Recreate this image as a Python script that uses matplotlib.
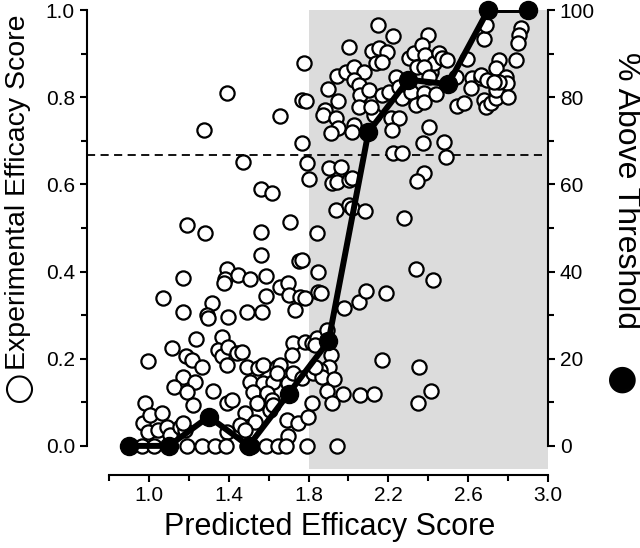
import matplotlib
matplotlib.use('Agg')
import matplotlib.pyplot as plt
from matplotlib.ticker import MultipleLocator

plt.rcParams['font.family'] = ['Liberation Sans', 'DejaVu Sans']

# scatter: predicted vs experimental efficacy score
pred = [1.775, 1.39, 1.765, 1.785, 1.655, 1.275, 1.765, 1.47, 1.79, 1.80,
        1.56, 1.615, 1.19, 1.28, 1.56, 1.705, 1.84, 1.56, 1.75, 1.845,
        1.17, 1.39, 1.38, 1.375, 1.445, 1.505, 1.585, 1.655, 1.695, 1.70,
        1.755, 1.78, 1.845, 1.07, 1.585, 1.315, 1.29, 1.295, 1.17, 1.395,
        1.49, 1.565, 1.73, 1.235, 1.115, 1.365, 1.345, 1.365, 1.395, 1.44,
        1.465, 1.39, 1.185, 1.215, 1.265, 0.995, 1.72, 1.78, 1.815, 1.84,
        1.715, 1.49, 1.545, 1.57, 1.64, 1.655, 1.17, 1.23, 1.125, 1.19,
        1.22, 1.505, 1.57, 1.62, 1.64, 1.32, 1.52, 1.545, 1.59, 1.615,
        1.695, 1.72, 1.765, 1.82, 1.815, 0.98, 1.39, 1.415, 1.48, 1.53,
        1.54, 1.605, 1.62, 1.69, 1.745, 1.795, 0.97, 1.005, 1.065, 0.995,
        1.045, 1.09, 1.105, 1.155, 1.18, 1.17, 1.39, 1.455, 1.48, 1.695,
        0.91, 0.965, 1.025, 1.10, 1.19, 1.265, 1.33, 1.385, 1.49, 1.515,
        1.585, 1.645, 1.685, 1.79, 1.945,
        2.15, 2.225, 2.40, 2.005, 2.12, 2.155, 2.195, 2.14, 2.17, 1.945,
        1.99, 2.03, 2.08, 2.03, 2.055, 1.895, 2.06, 2.105, 2.055, 1.95,
        1.88, 1.87, 1.94, 1.95, 1.915, 2.03, 2.02, 2.13, 2.115, 2.17,
        2.205, 2.24, 2.255, 2.215, 2.255, 2.22, 2.27, 2.315, 2.34, 2.38,
        2.38, 2.305, 2.33, 2.37, 2.385, 2.415, 2.415, 2.43, 2.455, 2.47,
        2.495, 2.345, 2.38, 2.405, 2.44, 2.405, 2.375, 2.48, 2.49, 2.225,
        2.27, 2.38, 2.345, 1.905, 1.965, 1.92, 1.945, 2.005, 2.02, 1.94,
        2.005, 2.02, 2.085, 2.28, 2.54, 2.545, 2.58, 2.595, 2.62, 2.615,
        2.665, 2.665, 2.695, 2.68, 2.69, 2.68, 2.69, 2.715, 2.74, 2.74,
        2.755, 2.74, 2.79, 2.795, 2.80, 2.755, 2.73, 2.84, 2.865, 2.855,
        2.85,
        1.765, 1.86, 1.98, 2.055, 2.09, 2.19, 2.34, 2.425, 1.89, 1.83,
        1.915, 1.905, 1.855, 1.865, 1.93, 1.83, 1.89, 1.975, 2.06, 2.13,
        1.92, 2.17, 2.355, 2.415, 2.35]
expt = [0.878, 0.810, 0.794, 0.791, 0.757, 0.725, 0.695, 0.651, 0.649, 0.612,
        0.589, 0.580, 0.507, 0.489, 0.491, 0.514, 0.489, 0.438, 0.424, 0.399,
        0.385, 0.406, 0.383, 0.374, 0.392, 0.383, 0.390, 0.365, 0.374, 0.346,
        0.342, 0.339, 0.353, 0.339, 0.344, 0.328, 0.300, 0.294, 0.307, 0.296,
        0.307, 0.307, 0.312, 0.245, 0.225, 0.250, 0.220, 0.206, 0.227, 0.213,
        0.216, 0.186, 0.206, 0.197, 0.181, 0.195, 0.236, 0.239, 0.236, 0.248,
        0.209, 0.181, 0.179, 0.186, 0.181, 0.186, 0.158, 0.147, 0.135, 0.124,
        0.094, 0.147, 0.144, 0.147, 0.167, 0.126, 0.124, 0.099, 0.122, 0.106,
        0.144, 0.167, 0.156, 0.167, 0.099, 0.099, 0.099, 0.106, 0.076, 0.055,
        0.099, 0.083, 0.094, 0.060, 0.053, 0.067, 0.053, 0.071, 0.076, 0.032,
        0.037, 0.044, 0.025, 0.044, 0.037, 0.053, 0.032, 0.048, 0.037, 0.023,
        0.0, 0.0, 0.0, 0.0, 0.0, 0.0, 0.0, 0.0, 0.0, 0.0,
        0.0, 0.0, 0.0, 0.0, 0.0,
        0.966, 0.940, 0.943, 0.915, 0.906, 0.913, 0.904, 0.878, 0.881, 0.849,
        0.858, 0.869, 0.858, 0.839, 0.828, 0.819, 0.805, 0.817, 0.778, 0.791,
        0.771, 0.759, 0.752, 0.729, 0.718, 0.736, 0.720, 0.759, 0.778, 0.805,
        0.812, 0.846, 0.823, 0.752, 0.752, 0.725, 0.798, 0.812, 0.782, 0.810,
        0.789, 0.890, 0.901, 0.920, 0.897, 0.869, 0.858, 0.878, 0.901, 0.890,
        0.885, 0.869, 0.869, 0.846, 0.807, 0.732, 0.695, 0.697, 0.663, 0.672,
        0.672, 0.626, 0.608, 0.638, 0.640, 0.603, 0.606, 0.610, 0.615, 0.541,
        0.553, 0.546, 0.539, 0.523, 0.846, 0.780, 0.787, 0.888, 0.844, 0.821,
        0.844, 0.851, 0.839, 0.933, 0.966, 0.794, 0.778, 0.787, 0.798, 0.817,
        0.885, 0.867, 0.846, 0.833, 0.800, 0.835, 0.835, 0.885, 0.959, 0.943,
        0.924,
        0.427, 0.351, 0.317, 0.330, 0.356, 0.351, 0.406, 0.381, 0.266, 0.232,
        0.209, 0.181, 0.174, 0.158, 0.154, 0.181, 0.126, 0.119, 0.117, 0.119,
        0.099, 0.197, 0.181, 0.126, 0.099]

# binned % above threshold
bin_x = [0.9, 1.1, 1.3, 1.5, 1.7, 1.9, 2.1, 2.3, 2.5, 2.7, 2.9]
pct_above = [0, 0, 6.7, 0, 12, 24, 72, 84, 83, 100, 100]

threshold = 0.667
shade_from = 1.8

fig = plt.figure(figsize=(6.4, 5.48), dpi=100)
ax = fig.add_axes([109/640, 1-469/548, 439/640, 459/548])

ax.axvspan(shade_from, 3.0, color='#dcdcdc', lw=0, zorder=0)
ax.axhline(threshold, xmin=-0.05, xmax=0.99, color='black', lw=1.3,
           dashes=(4.5, 3), clip_on=False, zorder=1)
ax.scatter(pred, expt, s=105, facecolor='white', edgecolor='black',
           linewidth=1.6, zorder=2, clip_on=False)

ax2 = ax.twinx()
ax2.plot(bin_x, pct_above, color='black', lw=4.3, zorder=3)
ax2.plot(bin_x, pct_above, 'o', color='black', ms=13, clip_on=False, zorder=4)

ax.spines['top'].set_visible(False)
ax.spines['right'].set_visible(False)
ax2.spines['top'].set_visible(False)
ax2.spines['left'].set_visible(False)
ax2.spines['bottom'].set_visible(False)

ax.spines['left'].set_position(('outward', 16))
ax.spines['left'].set_bounds(0, 1)
ax.spines['bottom'].set_position(('outward', 4))
ax2.spines['right'].set_bounds(0, 100)
for sp in (ax.spines['left'], ax.spines['bottom'], ax2.spines['right']):
    sp.set_linewidth(1.5)

ax.set_xticks([1.0, 1.4, 1.8, 2.2, 2.6, 3.0])
ax.xaxis.set_minor_locator(MultipleLocator(0.2))
ax.set_yticks([0, 0.2, 0.4, 0.6, 0.8, 1.0])
ax.set_yticklabels(['0.0', '0.2', '0.4', '0.6', '0.8', '1.0'])
ax.yaxis.set_minor_locator(MultipleLocator(0.1))
ax2.set_yticks([0, 20, 40, 60, 80, 100])
ax2.yaxis.set_minor_locator(MultipleLocator(10))
ax.set_xlim(0.8, 3.0)
ax.set_ylim(-0.053, 1.0)
ax2.set_ylim(-5.3, 100)

for a in (ax, ax2):
    a.tick_params(which='both', width=1.5, labelsize=15, color='black')
    a.tick_params(which='major', length=5)
    a.tick_params(which='minor', length=4)

fig.text(330/640, 1-527/548, 'Predicted Efficacy Score', fontsize=22,
         ha='center', va='center')
fig.text(18/640, 1-192/548, 'Experimental Efficacy Score', fontsize=20.5,
         rotation=90, ha='center', va='center')
fig.text(18/640, 1-386/548, '○', fontsize=26, family='DejaVu Sans',
         rotation=90, ha='center', va='center')
fig.text(626/640, 1-190/548, '% Above Threshold', fontsize=23,
         rotation=270, ha='center', va='center')
fig.text(620/640, 1-380/548, '●', fontsize=25, family='DejaVu Sans',
         rotation=270, ha='center', va='center')

fig.savefig('out.png', dpi=100)
